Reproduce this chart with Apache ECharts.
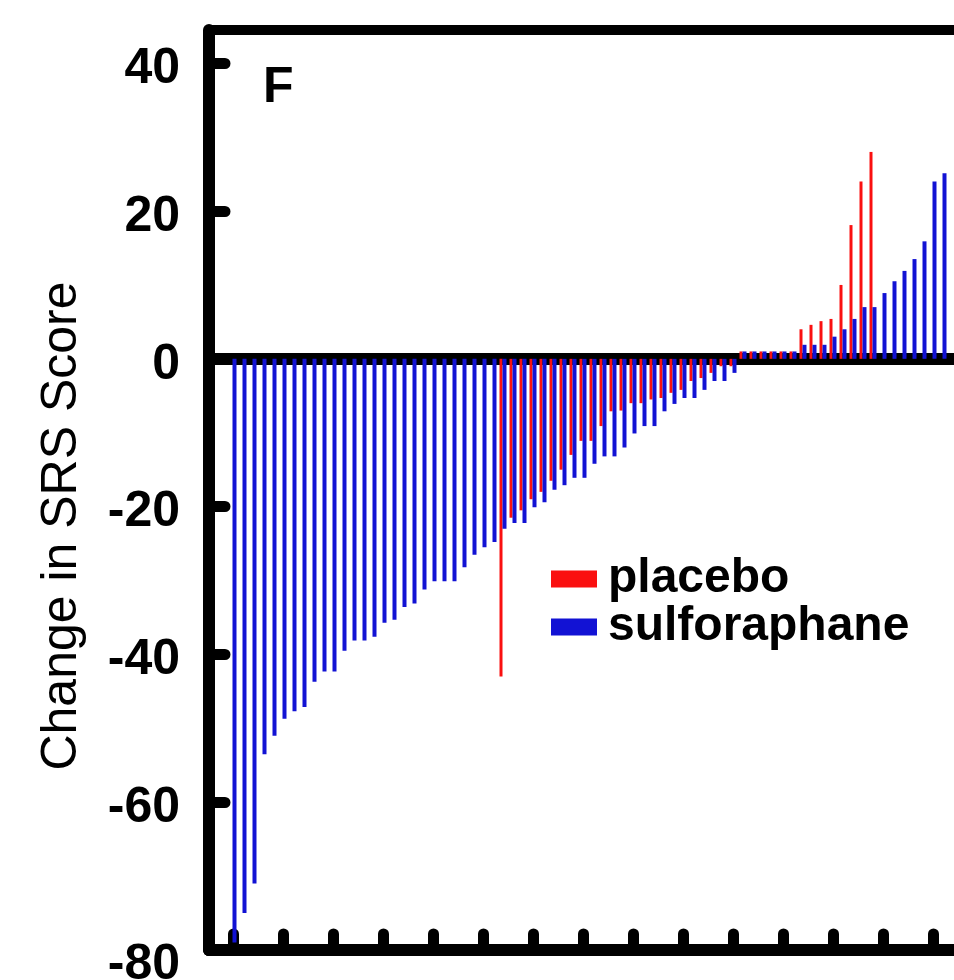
<!DOCTYPE html>
<html>
<head>
<meta charset="utf-8">
<script src="https://cdn.jsdelivr.net/npm/echarts@6/dist/echarts.min.js"></script>
<style>
html,body{margin:0;padding:0;background:#fff;}
#chart{width:954px;height:980px;}
</style>
</head>
<body>
<div id="chart"></div>
<script>
// Change in SRS score, ranked subjects (waterfall)
const sulforaphane = [
  -79, -75, -71, -53.5, -51, -48.7, -47.7, -47.1, -43.7, -42.3,
  -42.3, -39.5, -38.1, -38.1, -37.6, -35.7, -35.3, -33.6, -33.1, -31.2,
  -30.1, -30.1, -30.1, -28.2, -26.5, -25.5, -24.8, -23.0, -22.2, -22.2,
  -20.1, -19.4, -17.7, -17.1, -16.1, -16.1, -14.2, -13.2, -13.2, -12.0,
  -10.1, -9.1, -9.1, -7.1, -6.1, -5.3, -5.3, -4.2, -3.0, -3.0,
  -1.9, 1, 1, 1, 1, 1, 1, 1.9, 1.9, 1.9,
  3.0, 4.0, 5.4, 7.0, 7.0, 8.9, 10.5, 11.9, 13.5, 15.9,
  24.0, 25.1
];
const placebo = [
  null, null, null, null, null, null, null, null, null, null,
  null, null, null, null, null, null, null, null, null, null,
  null, null, null, null, null, null, null, -43, -21.5, -20.5,
  -19, -18, -16.5, -15, -13, -11.1, -11.1, -9.1, -7.1, -7,
  -6, -6, -5.5, -5.3, -4.6, -4.2, -3.0, -2.6, -1.9, -1.0,
  -1.0, 1, 1, 1, 1, 1, 1, 4.0, 4.6, 5.1,
  5.4, 10.0, 18.1, 24.0, 28.0, null, null, null, null, null,
  null, null
];
const xTickValues = [0, 5, 10, 15, 20, 25, 30, 35, 40, 45, 50, 55, 60, 65, 70, 75];
const yTickValues = [-80, -60, -40, -20, 0, 20, 40];
const seriesNames = ['placebo', 'sulforaphane'];
const yTitle = 'Change in SRS Score';
const panelLetter = 'F';

const FONT = '"Liberation Sans", Arial, Helvetica, sans-serif';
const RED = '#fa1010';
const BLUE = '#1212d4';

const blueData = sulforaphane.map((v, i) => [i, v]);
const redData = placebo.map((v, i) => (v === null ? null : [i, v])).filter(d => d !== null);

const xMin = -2.4, xMax = 76.5;
const yMin = -80, yMax = 44.5;

const chart = echarts.init(document.getElementById('chart'), null, {renderer: 'canvas'});
chart.setOption({
  animation: false,
  backgroundColor: '#fff',
  title: {
    text: panelLetter,
    left: 258, top: 58,
    textStyle: {fontFamily: FONT, fontSize: 50, fontWeight: 'bold', color: '#000'}
  },
  legend: {
    orient: 'vertical',
    left: 546, top: 550,
    itemWidth: 46, itemHeight: 17, itemGap: 0,
    icon: 'rect',
    data: seriesNames,
    textStyle: {fontFamily: FONT, fontSize: 48, fontWeight: 'bold', color: '#000', padding: [0, 0, 0, 6]}
  },
  grid: {left: 209, top: 30, width: (xMax - xMin) * 10, height: 920, outerBoundsMode: 'none', containLabel: false},
  xAxis: [
    {
      type: 'value', min: xMin, max: xMax, position: 'bottom',
      axisLine: {show: true, onZero: false, lineStyle: {color: '#000', width: 12, cap: 'round'}},
      axisTick: {show: true, inside: true, length: 16, customValues: xTickValues,
        lineStyle: {color: '#000', width: 11, cap: 'round'}},
      axisLabel: {show: false},
      splitLine: {show: false}
    },
    {
      type: 'value', min: xMin, max: xMax, position: 'top',
      axisLine: {show: true, onZero: false, lineStyle: {color: '#000', width: 10, cap: 'round'}},
      axisTick: {show: false}, axisLabel: {show: false}, splitLine: {show: false}
    }
  ],
  yAxis: {
    type: 'value', min: yMin, max: yMax, interval: 20,
    axisLine: {show: true, onZero: false, lineStyle: {color: '#000', width: 12, cap: 'round'}},
    axisTick: {show: true, inside: true, length: 16, customValues: yTickValues,
      lineStyle: {color: '#000', width: 11, cap: 'round'}},
    axisLabel: {
      customValues: yTickValues, margin: 29, fontFamily: FONT, fontSize: 50,
      fontWeight: 'bold', color: '#000', padding: [12, 0, 0, 0],
      formatter: v => (v === yMin ? '{low|' + v + '}' : String(v)),
      rich: {low: {fontFamily: FONT, fontSize: 50, fontWeight: 'bold', color: '#000', padding: [18, 0, 0, 0]}}
    },
    splitLine: {show: false},
    name: yTitle, nameLocation: 'middle', nameGap: 122,
    nameTextStyle: {fontFamily: FONT, fontSize: 50, color: '#000', padding: [0, 72, 0, 0]}
  },
  series: [
    {
      name: seriesNames[0], type: 'bar', xAxisIndex: 0,
      data: redData, barWidth: 3, barGap: '0%',
      itemStyle: {color: RED},
      z: 3,
      markLine: {
        silent: true, symbol: 'none', z: 1,
        label: {show: false},
        lineStyle: {color: '#000', width: 12, type: 'solid'},
        data: [{yAxis: 0}]
      }
    },
    {
      name: seriesNames[1], type: 'bar', xAxisIndex: 0,
      data: blueData, barWidth: 4, barGap: '0%',
      itemStyle: {color: BLUE},
      z: 3
    }
  ]
});
</script>
</body>
</html>
